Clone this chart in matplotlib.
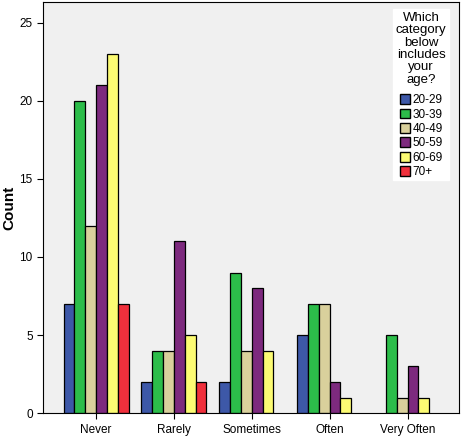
import numpy as np
import matplotlib.pyplot as plt
from matplotlib.patches import Patch

plt.rcParams['font.family'] = ['Liberation Sans', 'DejaVu Sans']

# data
kategori = ['Never', 'Rarely', 'Sometimes', 'Often', 'Very Often']
umur = ['20-29', '30-39', '40-49', '50-59', '60-69', '70+']
nilai = {
    '20-29': [7, 2, 2, 5, 0],
    '30-39': [20, 4, 9, 7, 5],
    '40-49': [12, 4, 4, 7, 1],
    '50-59': [21, 11, 8, 2, 3],
    '60-69': [23, 5, 4, 1, 1],
    '70+':   [7, 2, 0, 0, 0],
}
warna = ['#3d58a8', '#2cbd4a', '#d9d09c', '#7d2a7e', '#fcfb73', '#f0303c']

fig = plt.figure(figsize=(4.64, 4.40), dpi=100)
ax = fig.add_axes([0.093, 0.061, 0.896, 0.934])
ax.set_facecolor('#f0f0f0')

x = np.arange(len(kategori))
lebar = 0.139
for i, u in enumerate(umur):
    pos = x + (i - 2.5) * lebar
    v = np.array(nilai[u])
    m = v > 0
    ax.bar(pos[m], v[m], lebar, color=warna[i], edgecolor='black', linewidth=0.9)

ax.set_xlim(-0.68, 4.66)
ax.set_ylim(0, 26.3)
ax.set_xticks(x)
ax.set_xticklabels(kategori, fontsize=8.5)
ax.set_yticks([0, 5, 10, 15, 20, 25])
ax.tick_params(axis='y', labelsize=8.5, length=4)
ax.tick_params(axis='x', length=4)
ax.set_ylabel('Count', fontsize=11, fontweight='bold', labelpad=2)

handles = [Patch(facecolor=warna[i], edgecolor='black', label=u) for i, u in enumerate(umur)]
leg = ax.legend(handles=handles, title='Which\ncategory\nbelow\nincludes\nyour\nage?',
                loc='upper right', bbox_to_anchor=(0.99, 0.997), fontsize=8.5,
                title_fontsize=9.5, frameon=True, fancybox=False, framealpha=1,
                edgecolor='white', handlelength=0.9, handleheight=0.9,
                handletextpad=0.15, labelspacing=0.2, borderpad=0.2)
leg.get_title().set_multialignment('center')
leg.get_title().set_linespacing(1.05)
leg._legend_box.sep = 6

plt.savefig('out.png', dpi=100)
